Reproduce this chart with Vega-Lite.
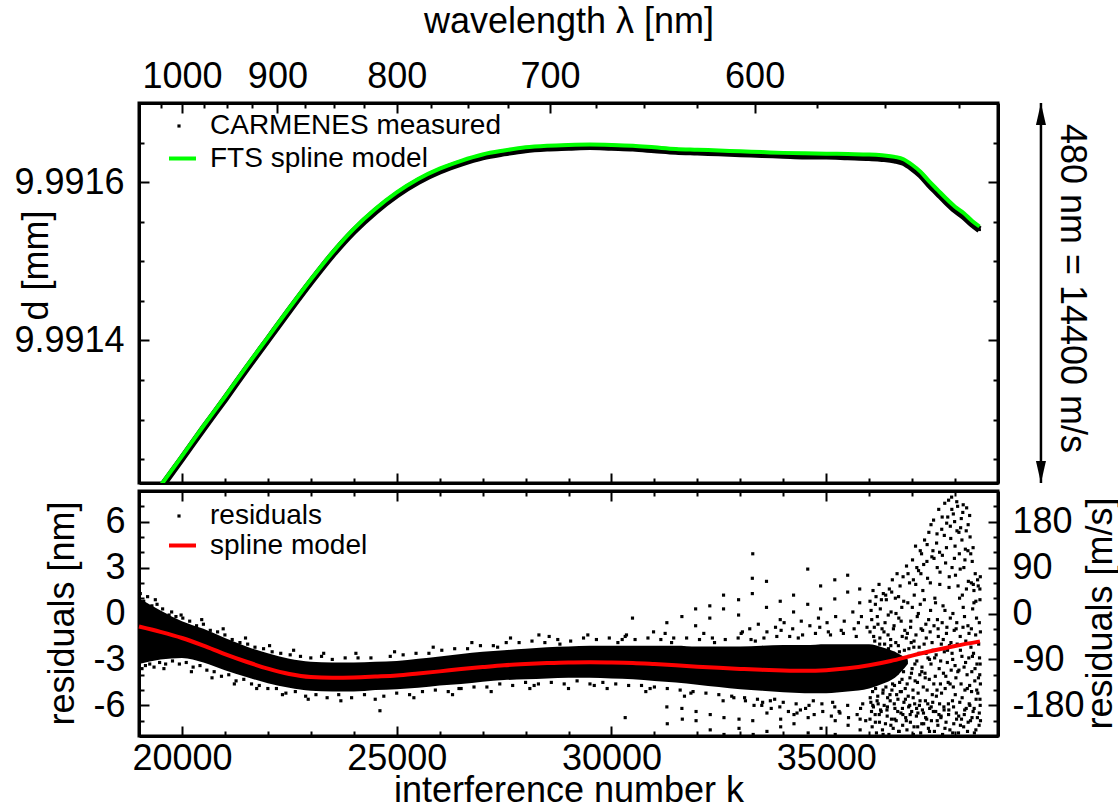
{
"$schema":"https://vega.github.io/schema/vega-lite/v6.json",
"background":"white",
"padding":{"left":12,"top":1,"right":0,"bottom":0},
"spacing":0,
"config":{
 "font":"Liberation Sans",
 "view":{"stroke":"black","strokeWidth":3},
 "axis":{"grid":false,"domainColor":"black","domainWidth":3,"tickColor":"black","tickWidth":2,"labelFont":"Liberation Sans","labelFontSize":36,"labelColor":"black","titleFont":"Liberation Sans","titleFontSize":36,"titleFontWeight":"normal","titleColor":"black","labelOverlap":false,"labelFlush":false,"labelBound":false},
 "legend":{"labelFont":"Liberation Sans","labelFontSize":28,"labelColor":"black","padding":0,"orient":"none","labelLimit":0,"symbolOpacity":1}
},
"datasets":{
 "model":[{"k":19400,"d":9.991209},{"k":20000,"d":9.991254},{"k":20500,"d":9.991292},{"k":21000,"d":9.991329},{"k":21500,"d":9.991367},{"k":22000,"d":9.991404},{"k":22500,"d":9.991441},{"k":23000,"d":9.991477},{"k":23500,"d":9.991511},{"k":24000,"d":9.991541},{"k":24500,"d":9.991566},{"k":25000,"d":9.991587},{"k":25500,"d":9.991604},{"k":26000,"d":9.991617},{"k":26500,"d":9.991627},{"k":27000,"d":9.991635},{"k":27500,"d":9.99164},{"k":28000,"d":9.991644},{"k":28500,"d":9.991646},{"k":29000,"d":9.991647},{"k":29500,"d":9.9916475},{"k":30000,"d":9.991647},{"k":30500,"d":9.991646},{"k":31000,"d":9.991644},{"k":31500,"d":9.991642},{"k":32000,"d":9.991641},{"k":32500,"d":9.99164},{"k":33000,"d":9.991639},{"k":33500,"d":9.991638},{"k":34000,"d":9.991637},{"k":34500,"d":9.9916365},{"k":35000,"d":9.991636},{"k":35500,"d":9.9916355},{"k":36000,"d":9.991635},{"k":36300,"d":9.991634},{"k":36600,"d":9.991632},{"k":36800,"d":9.991629},{"k":37000,"d":9.991622},{"k":37200,"d":9.991613},{"k":37400,"d":9.991601},{"k":37600,"d":9.99159},{"k":37800,"d":9.991579},{"k":38000,"d":9.991569},{"k":38200,"d":9.991561},{"k":38400,"d":9.991551},{"k":38570,"d":9.991544}],
 "meas":[{"k":19400,"d":9.991206},{"k":20000,"d":9.991251},{"k":20500,"d":9.991289},{"k":21000,"d":9.991326},{"k":21500,"d":9.991364},{"k":22000,"d":9.991401},{"k":22500,"d":9.991438},{"k":23000,"d":9.991474},{"k":23500,"d":9.991508},{"k":24000,"d":9.991538},{"k":24500,"d":9.991563},{"k":25000,"d":9.991584},{"k":25500,"d":9.991601},{"k":26000,"d":9.991614},{"k":26500,"d":9.991624},{"k":27000,"d":9.991632},{"k":27500,"d":9.991637},{"k":28000,"d":9.991641},{"k":28500,"d":9.991643},{"k":29000,"d":9.991644},{"k":29500,"d":9.991645},{"k":30000,"d":9.991644},{"k":30500,"d":9.991643},{"k":31000,"d":9.991641},{"k":31500,"d":9.991639},{"k":32000,"d":9.991638},{"k":32500,"d":9.991637},{"k":33000,"d":9.991636},{"k":33500,"d":9.991635},{"k":34000,"d":9.991634},{"k":34500,"d":9.991633},{"k":35000,"d":9.991633},{"k":35500,"d":9.991632},{"k":36000,"d":9.991631},{"k":36300,"d":9.99163},{"k":36600,"d":9.991628},{"k":36800,"d":9.991625},{"k":37000,"d":9.991618},{"k":37200,"d":9.991609},{"k":37400,"d":9.991597},{"k":37600,"d":9.991586},{"k":37800,"d":9.991575},{"k":38000,"d":9.991565},{"k":38200,"d":9.991557},{"k":38400,"d":9.991547},{"k":38570,"d":9.99154}],
 "spline":[{"k":19000,"r":-0.85},{"k":19500,"r":-1.2},{"k":20000,"r":-1.6},{"k":20500,"r":-2.1},{"k":21000,"r":-2.65},{"k":21500,"r":-3.15},{"k":22000,"r":-3.6},{"k":22500,"r":-3.95},{"k":23000,"r":-4.15},{"k":23500,"r":-4.2},{"k":24000,"r":-4.18},{"k":24500,"r":-4.12},{"k":25000,"r":-4.05},{"k":25500,"r":-3.92},{"k":26000,"r":-3.78},{"k":26500,"r":-3.63},{"k":27000,"r":-3.5},{"k":27500,"r":-3.38},{"k":28000,"r":-3.3},{"k":28500,"r":-3.24},{"k":29000,"r":-3.2},{"k":29500,"r":-3.19},{"k":30000,"r":-3.2},{"k":30500,"r":-3.23},{"k":31000,"r":-3.3},{"k":31500,"r":-3.38},{"k":32000,"r":-3.47},{"k":32500,"r":-3.55},{"k":33000,"r":-3.62},{"k":33500,"r":-3.68},{"k":34000,"r":-3.72},{"k":34500,"r":-3.74},{"k":35000,"r":-3.7},{"k":35500,"r":-3.58},{"k":36000,"r":-3.38},{"k":36500,"r":-3.1},{"k":37000,"r":-2.75},{"k":37500,"r":-2.42},{"k":38000,"r":-2.12},{"k":38580,"r":-1.82}],
 "band":[{"k":19000,"lo":-3.3,"hi":1.0},{"k":19500,"lo":-3.0,"hi":0.2},{"k":20000,"lo":-2.9,"hi":-0.5},{"k":20500,"lo":-3.2,"hi":-1.0},{"k":21000,"lo":-3.7,"hi":-1.6},{"k":21500,"lo":-4.15,"hi":-2.15},{"k":22000,"lo":-4.55,"hi":-2.6},{"k":22500,"lo":-4.85,"hi":-2.95},{"k":23000,"lo":-5.05,"hi":-3.15},{"k":23500,"lo":-5.1,"hi":-3.2},{"k":24000,"lo":-5.1,"hi":-3.2},{"k":24500,"lo":-5.0,"hi":-3.15},{"k":25000,"lo":-4.95,"hi":-3.1},{"k":25500,"lo":-4.85,"hi":-2.95},{"k":26000,"lo":-4.7,"hi":-2.8},{"k":26500,"lo":-4.6,"hi":-2.65},{"k":27000,"lo":-4.45,"hi":-2.5},{"k":27500,"lo":-4.35,"hi":-2.4},{"k":28000,"lo":-4.3,"hi":-2.3},{"k":28500,"lo":-4.25,"hi":-2.2},{"k":29000,"lo":-4.2,"hi":-2.15},{"k":29500,"lo":-4.2,"hi":-2.1},{"k":30000,"lo":-4.25,"hi":-2.1},{"k":30500,"lo":-4.3,"hi":-2.1},{"k":31000,"lo":-4.4,"hi":-2.1},{"k":31500,"lo":-4.5,"hi":-2.1},{"k":32000,"lo":-4.65,"hi":-2.15},{"k":32500,"lo":-4.8,"hi":-2.15},{"k":33000,"lo":-4.95,"hi":-2.15},{"k":33500,"lo":-5.05,"hi":-2.1},{"k":34000,"lo":-5.15,"hi":-2.05},{"k":34500,"lo":-5.2,"hi":-2.05},{"k":35000,"lo":-5.2,"hi":-2.0},{"k":35500,"lo":-5.1,"hi":-2.0},{"k":36000,"lo":-4.9,"hi":-2.0},{"k":36300,"lo":-4.6,"hi":-2.2},{"k":36600,"lo":-4.2,"hi":-2.5},{"k":36900,"lo":-3.3,"hi":-3.0}],
 "resid":[
{"k":19030,"r":1.3},{"k":19070,"r":-3.6},{"k":19110,"r":0.8},{"k":19150,"r":-3.4},{"k":19200,"r":1.1},{"k":19250,"r":-3.3},{"k":19300,"r":0.5},{"k":19350,"r":-3.5},{"k":19420,"r":0.6},{"k":19480,"r":-3.2},{"k":19550,"r":0.3},{"k":19620,"r":-3.3},{"k":19700,"r":-0.1},{"k":19780,"r":-3.1},{"k":19860,"r":-0.2},{"k":19940,"r":-3.3},{"k":20020,"r":-0.3},{"k":20100,"r":-3.2},{"k":20180,"r":-0.5},{"k":20260,"r":-3.5},{"k":20340,"r":-0.8},{"k":20420,"r":-3.4},{"k":20500,"r":-0.7},{"k":20580,"r":-3.7},{"k":20660,"r":-1.1},{"k":20750,"r":-3.8},{"k":20830,"r":-1.2},{"k":20920,"r":-4.1},{"k":21000,"r":-1.4},{"k":21090,"r":-4.0},{"k":21170,"r":-1.7},{"k":21260,"r":-4.4},{"k":21350,"r":-1.9},{"k":21440,"r":-4.3},{"k":21530,"r":-2.0},{"k":21620,"r":-4.6},{"k":21700,"r":-2.2},{"k":21800,"r":-4.7},{"k":21900,"r":-2.3},{"k":22000,"r":-4.9},{"k":22100,"r":-2.5},{"k":22200,"r":-4.9},{"k":22300,"r":-2.6},{"k":22420,"r":-5.2},{"k":22520,"r":-2.7},{"k":22640,"r":-5.1},{"k":22760,"r":-2.8},{"k":22880,"r":-5.4},{"k":23000,"r":-2.9},{"k":23120,"r":-5.3},{"k":23250,"r":-2.8},{"k":23380,"r":-5.5},{"k":23500,"r":-3.0},{"k":23650,"r":-5.3},{"k":23800,"r":-2.9},{"k":23950,"r":-5.5},{"k":24100,"r":-2.9},{"k":24250,"r":-5.3},{"k":24400,"r":-2.9},{"k":24610,"r":-6.35},{"k":24700,"r":-5.4},{"k":24850,"r":-2.8},{"k":25000,"r":-5.2},{"k":25150,"r":-2.7},{"k":25300,"r":-5.3},{"k":25450,"r":-2.6},{"k":25600,"r":-5.1},{"k":25750,"r":-2.6},{"k":25900,"r":-5.0},{"k":26050,"r":-2.4},{"k":26200,"r":-5.1},{"k":26350,"r":-2.3},{"k":26500,"r":-4.9},{"k":26650,"r":-2.3},{"k":26800,"r":-4.8},{"k":26950,"r":-2.1},{"k":27100,"r":-4.8},{"k":27250,"r":-2.1},{"k":27400,"r":-4.6},{"k":27550,"r":-1.9},{"k":27700,"r":-4.7},{"k":27850,"r":-1.9},{"k":28000,"r":-4.5},{"k":28150,"r":-1.8},{"k":28300,"r":-4.6},{"k":28311,"r":-1.4},{"k":28450,"r":-1.9},{"k":28600,"r":-4.5},{"k":28750,"r":-1.7},{"k":28900,"r":-4.6},{"k":29050,"r":-1.8},{"k":29200,"r":-4.4},{"k":29350,"r":-1.6},{"k":29500,"r":-4.6},{"k":29650,"r":-1.7},{"k":29800,"r":-4.5},{"k":29950,"r":-1.6},{"k":30100,"r":-4.6},{"k":30250,"r":-1.7},{"k":30320,"r":-1.5},{"k":30400,"r":-4.7},{"k":30490,"r":-0.3},{"k":30550,"r":-1.7},{"k":30700,"r":-4.7},{"k":30850,"r":-1.6},{"k":30980,"r":-1.2},{"k":31000,"r":-4.8},{"k":31150,"r":-1.7},{"k":31300,"r":-4.9},{"k":31450,"r":-1.6},{"k":31600,"r":-5.0},{"k":31750,"r":-1.6},{"k":31900,"r":-5.1},{"k":32050,"r":-1.7},{"k":32200,"r":-5.2},{"k":32350,"r":-1.6},{"k":32500,"r":-5.3},{"k":32650,"r":-1.7},{"k":32800,"r":-5.4},{"k":32950,"r":-1.6},{"k":33100,"r":-5.5},{"k":33250,"r":-1.7},{"k":33400,"r":-5.6},{"k":33550,"r":-1.6},{"k":33700,"r":-5.7},{"k":33850,"r":-1.5},{"k":34000,"r":-5.8},{"k":34150,"r":-1.5},{"k":34300,"r":-5.9},{"k":34450,"r":-1.4},{"k":34600,"r":-6.0},{"k":34750,"r":-1.3},{"k":34900,"r":-5.9},{"k":35050,"r":-1.2},{"k":35200,"r":-6.1},{"k":35350,"r":-1.1},{"k":35500,"r":-6.0},{"k":35650,"r":-1.0},{"k":35800,"r":-6.2},{"k":35950,"r":-0.9},
{"k":19180,"r":-2.8},{"k":19380,"r":0.9},{"k":19580,"r":-3.6},{"k":19760,"r":0.1},{"k":19980,"r":-0.1},{"k":20220,"r":-3.8},{"k":20460,"r":-0.4},{"k":20700,"r":-4.2},{"k":20960,"r":-1.0},{"k":21220,"r":-4.6},{"k":21480,"r":-1.6},{"k":21740,"r":-4.9},{"k":22040,"r":-2.1},{"k":22340,"r":-5.3},{"k":22600,"r":-2.4},{"k":22940,"r":-5.6},{"k":23300,"r":-2.6},{"k":23700,"r":-5.7},{"k":24050,"r":-2.6},{"k":24500,"r":-5.6},{"k":24950,"r":-2.5},{"k":25400,"r":-5.5},{"k":25850,"r":-2.2},{"k":26300,"r":-5.3},{"k":26750,"r":-1.9},{"k":27200,"r":-5.1},{"k":27650,"r":-1.6},{"k":28100,"r":-4.9},{"k":28550,"r":-1.5},{"k":29000,"r":-4.9},{"k":29450,"r":-1.4},{"k":29900,"r":-4.9},{"k":30350,"r":-1.4},{"k":30800,"r":-5.1},{"k":31250,"r":-1.3},{"k":31700,"r":-5.4},{"k":32150,"r":-1.3},{"k":32600,"r":-5.7},{"k":33050,"r":-1.2},{"k":33500,"r":-6.0},{"k":33950,"r":-1.1},{"k":34400,"r":-6.3},{"k":34850,"r":-0.9},{"k":35300,"r":-6.4},{"k":35750,"r":-0.6},
{"k":33020,"r":-1.3},{"k":33120,"r":-5.7},{"k":33220,"r":-1.0},{"k":33320,"r":-6.0},{"k":33420,"r":-0.7},{"k":33520,"r":-5.8},{"k":33620,"r":-1.2},{"k":33720,"r":-6.2},{"k":33820,"r":-0.9},{"k":33920,"r":-6.1},{"k":34020,"r":-0.6},{"k":34120,"r":-6.4},{"k":34220,"r":-1.0},{"k":34320,"r":-6.5},{"k":34420,"r":-0.5},{"k":34520,"r":-6.2},{"k":34620,"r":-0.8},{"k":34720,"r":-6.6},{"k":34820,"r":-0.3},{"k":34920,"r":-6.4},{"k":35020,"r":-0.6},{"k":35120,"r":-6.7},{"k":35220,"r":-0.2},{"k":35320,"r":-6.5},{"k":35420,"r":-0.5},{"k":35520,"r":-6.8},{"k":35620,"r":0.1},{"k":35720,"r":-6.6},{"k":35820,"r":-0.2},{"k":35920,"r":-7.0},{"k":35100,"r":-1.4},{"k":35400,"r":-1.3},{"k":35700,"r":-1.5},{"k":35850,"r":-5.9},{"k":35150,"r":-5.8},{"k":34700,"r":-5.7},{"k":34350,"r":-1.6},{"k":33800,"r":-5.6},{"k":33350,"r":-1.8},{"k":32850,"r":-5.5},{"k":32400,"r":-1.9},{"k":31850,"r":-5.2},{"k":31400,"r":-1.9},{"k":30900,"r":-4.9},{"k":30150,"r":-1.9},{"k":29600,"r":-4.7},{"k":28800,"r":-2.0},{"k":28200,"r":-4.7},{"k":27350,"r":-2.2},{"k":26450,"r":-4.9},
{"k":30320,"r":-6.8},{"k":31290,"r":-0.6},{"k":31290,"r":-6.1},{"k":31300,"r":-7.2},{"k":31640,"r":-0.2},{"k":31640,"r":-6.2},{"k":31650,"r":-6.9},{"k":31960,"r":-0.8},{"k":31960,"r":0.3},{"k":31970,"r":-6.4},{"k":31970,"r":-7.0},{"k":32290,"r":0.5},{"k":32290,"r":-0.3},{"k":32300,"r":-6.6},{"k":32300,"r":-7.6},{"k":32610,"r":0.3},{"k":32610,"r":1.2},{"k":32620,"r":-6.8},{"k":32620,"r":-7.9},{"k":32960,"r":-0.1},{"k":32960,"r":0.9},{"k":32970,"r":-6.9},{"k":32970,"r":-7.5},{"k":33280,"r":2.3},{"k":33280,"r":1.3},{"k":33290,"r":3.9},{"k":33290,"r":-7.0},{"k":33300,"r":-7.9},{"k":33610,"r":2.1},{"k":33610,"r":0.4},{"k":33620,"r":-6.5},{"k":33620,"r":-7.7},{"k":33930,"r":0.8},{"k":33930,"r":-0.4},{"k":33940,"r":-6.9},{"k":33940,"r":-7.4},{"k":34240,"r":1.2},{"k":34240,"r":0.1},{"k":34250,"r":-7.2},{"k":34250,"r":-6.6},{"k":34570,"r":2.9},{"k":34570,"r":0.6},{"k":34580,"r":-6.8},{"k":34580,"r":-7.8},{"k":34870,"r":1.8},{"k":34870,"r":0.3},{"k":34880,"r":-7.5},{"k":35200,"r":0.95},{"k":35200,"r":2.2},{"k":35210,"r":-7.0},{"k":35210,"r":-7.9},{"k":35500,"r":2.5},{"k":35500,"r":1.4},{"k":35510,"r":-7.3},{"k":35780,"r":1.6},{"k":35780,"r":0.7},{"k":35790,"r":-7.6},{"k":35790,"r":-6.9},
{"k":36020,"r":-6.9},{"k":36020,"r":-1.2},{"k":36020,"r":0.8},{"k":36040,"r":-5.8},{"k":36060,"r":-0.4},{"k":36070,"r":-7.4},{"k":36090,"r":1.5},{"k":36100,"r":-6.1},{"k":36120,"r":-0.9},{"k":36140,"r":-6.6},{"k":36160,"r":1.1},{"k":36170,"r":-7.8},{"k":36190,"r":-0.2},{"k":36210,"r":-5.9},{"k":36230,"r":1.9},{"k":36240,"r":-7.1},{"k":36260,"r":0.3},{"k":36280,"r":-6.4},{"k":36300,"r":-1.0},{"k":36310,"r":-7.6},{"k":36330,"r":1.3},{"k":36350,"r":-6.0},{"k":36370,"r":-0.6},{"k":36380,"r":-7.2},{"k":36400,"r":0.9},{"k":36420,"r":-6.7},{"k":36440,"r":-1.4},{"k":36460,"r":-7.9},{"k":36470,"r":1.6},{"k":36490,"r":-5.7},{"k":36510,"r":0.1},{"k":36520,"r":-6.9},{"k":36540,"r":2.2},{"k":36560,"r":-7.5},{"k":36580,"r":-0.8},{"k":36600,"r":-6.2},{"k":36610,"r":1.0},{"k":36630,"r":-7.0},{"k":36650,"r":2.6},{"k":36670,"r":-5.6},{"k":36690,"r":-0.3},{"k":36700,"r":-7.7},{"k":36720,"r":1.8},{"k":36740,"r":-6.5},{"k":36760,"r":0.4},{"k":36780,"r":-7.3},{"k":36790,"r":2.4},{"k":36810,"r":-5.8},{"k":36830,"r":-1.1},{"k":36850,"r":-6.8},{"k":36870,"r":3.1},{"k":36880,"r":-7.6},{"k":36900,"r":0.7},{"k":36920,"r":-6.1},{"k":36940,"r":2.0},{"k":36960,"r":-7.1},{"k":36970,"r":-0.5},{"k":36990,"r":-6.4},{"k":37010,"r":3.5},{"k":37030,"r":-7.9},{"k":37050,"r":1.2},{"k":37060,"r":-5.9},{"k":37080,"r":4.4},{"k":37100,"r":-6.7},{"k":37120,"r":-0.2},{"k":37130,"r":-7.4},{"k":37150,"r":2.8},{"k":37170,"r":-6.0},{"k":37190,"r":0.6},{"k":37200,"r":-7.8},{"k":37220,"r":3.9},{"k":37240,"r":-6.3},{"k":37250,"r":1.5},{"k":37270,"r":-7.2},{"k":37290,"r":4.8},{"k":37310,"r":-5.7},{"k":37320,"r":-0.7},{"k":37340,"r":-6.9},{"k":37360,"r":2.3},{"k":37380,"r":-7.5},{"k":37390,"r":5.3},{"k":37410,"r":-6.2},{"k":37430,"r":0.2},{"k":37450,"r":-7.0},{"k":37460,"r":3.7},{"k":37480,"r":-5.8},{"k":37500,"r":6.1},{"k":37520,"r":-7.7},{"k":37530,"r":1.0},{"k":37550,"r":-6.4},{"k":37570,"r":4.6},{"k":37590,"r":-0.4},{"k":37600,"r":-7.3},{"k":37620,"r":6.8},{"k":37640,"r":-5.9},{"k":37650,"r":2.7},{"k":37670,"r":-6.8},{"k":37690,"r":5.5},{"k":37710,"r":-7.9},{"k":37720,"r":0.5},{"k":37740,"r":-6.1},{"k":37760,"r":7.2},{"k":37780,"r":3.3},{"k":37790,"r":-7.1},{"k":37810,"r":-0.9},{"k":37830,"r":6.3},{"k":37850,"r":-6.6},{"k":37860,"r":1.7},{"k":37880,"r":-7.6},{"k":37900,"r":4.9},{"k":37920,"r":7.6},{"k":37940,"r":-5.7},{"k":37950,"r":0.0},{"k":37970,"r":-7.2},{"k":37990,"r":6.0},{"k":38010,"r":2.5},{"k":38030,"r":-6.5},{"k":38040,"r":-0.6},{"k":38060,"r":7.0},{"k":38080,"r":-7.8},{"k":38100,"r":3.9},{"k":38110,"r":-5.8},{"k":38130,"r":5.6},{"k":38150,"r":-6.9},{"k":38170,"r":1.2},{"k":38180,"r":6.6},{"k":38200,"r":-7.4},{"k":38220,"r":-0.2},{"k":38240,"r":4.2},{"k":38260,"r":-6.2},{"k":38270,"r":6.9},{"k":38290,"r":-7.7},{"k":38310,"r":2.1},{"k":38330,"r":-5.9},{"k":38350,"r":5.0},{"k":38360,"r":-7.0},{"k":38380,"r":-1.0},{"k":38400,"r":3.4},{"k":38420,"r":-6.4},{"k":38440,"r":0.7},{"k":38450,"r":-7.8},{"k":38470,"r":2.6},{"k":38490,"r":-5.6},{"k":38500,"r":-0.3},{"k":38520,"r":-6.8},{"k":38540,"r":1.8},{"k":38560,"r":-7.3},{"k":38570,"r":-2.9},{"k":38580,"r":0.9},{"k":38590,"r":-4.6},
{"k":36010,"r":-3.0},{"k":36030,"r":-4.6},{"k":36050,"r":-2.2},{"k":36080,"r":-5.1},{"k":36110,"r":-3.7},{"k":36130,"r":-1.8},{"k":36150,"r":-4.9},{"k":36180,"r":-2.7},{"k":36200,"r":-5.4},{"k":36220,"r":-3.3},{"k":36250,"r":-1.6},{"k":36270,"r":-4.4},{"k":36290,"r":-2.5},{"k":36320,"r":-5.2},{"k":36340,"r":-3.9},{"k":36360,"r":-2.0},{"k":36390,"r":-4.8},{"k":36410,"r":-3.1},{"k":36430,"r":-5.5},{"k":36450,"r":-2.3},{"k":36480,"r":-4.1},{"k":36500,"r":-1.7},{"k":36530,"r":-5.0},{"k":36550,"r":-3.4},{"k":36570,"r":-2.6},{"k":36590,"r":-4.7},{"k":36620,"r":-1.9},{"k":36640,"r":-5.3},{"k":36660,"r":-3.6},{"k":36680,"r":-2.1},{"k":36710,"r":-4.5},{"k":36730,"r":-3.0},{"k":36750,"r":-5.1},{"k":36770,"r":-1.5},{"k":36800,"r":-3.8},{"k":36820,"r":-2.4},{"k":36840,"r":-4.9},{"k":36860,"r":-3.2},{"k":36890,"r":-1.3},{"k":36910,"r":-5.4},{"k":36930,"r":-2.8},{"k":36950,"r":-4.2},{"k":36980,"r":-1.9},{"k":37000,"r":-3.6},{"k":37020,"r":-5.0},{"k":37040,"r":-2.2},{"k":37070,"r":-4.4},{"k":37090,"r":-1.4},{"k":37110,"r":-3.1},{"k":37140,"r":-5.2},{"k":37160,"r":-2.6},{"k":37180,"r":-4.0},{"k":37210,"r":-1.0},{"k":37230,"r":-3.5},{"k":37260,"r":-4.8},{"k":37280,"r":-2.0},{"k":37300,"r":-3.9},{"k":37330,"r":-1.6},{"k":37350,"r":-5.0},{"k":37370,"r":-2.9},{"k":37400,"r":-4.3},{"k":37420,"r":-1.2},{"k":37440,"r":-3.3},{"k":37470,"r":-5.3},{"k":37490,"r":-2.4},{"k":37510,"r":-0.8},{"k":37540,"r":-4.1},{"k":37560,"r":-2.7},{"k":37580,"r":-5.0},{"k":37610,"r":-1.5},{"k":37630,"r":-3.6},{"k":37660,"r":-4.6},{"k":37680,"r":-2.0},{"k":37700,"r":-0.6},{"k":37730,"r":-3.9},{"k":37750,"r":-2.5},{"k":37770,"r":-4.9},{"k":37800,"r":-1.3},{"k":37820,"r":-3.2},{"k":37840,"r":-4.5},{"k":37870,"r":-2.1},{"k":37890,"r":-0.3},{"k":37910,"r":-3.7},{"k":37930,"r":-2.6},{"k":37960,"r":-4.8},{"k":37980,"r":-1.1},{"k":38000,"r":-3.4},{"k":38020,"r":-4.2},{"k":38050,"r":-2.0},{"k":38070,"r":1.8},{"k":38090,"r":-3.7},{"k":38120,"r":-1.5},{"k":38140,"r":-4.6},{"k":38160,"r":-2.8},{"k":38190,"r":0.4},{"k":38210,"r":-3.5},{"k":38230,"r":-5.0},{"k":38250,"r":-1.8},{"k":38280,"r":-4.0},{"k":38300,"r":-0.8},{"k":38320,"r":-2.9},{"k":38340,"r":-4.7},{"k":38370,"r":-2.2},{"k":38390,"r":-3.8},{"k":38410,"r":0.3},{"k":38430,"r":-2.6},{"k":38460,"r":-4.4},{"k":38480,"r":-1.4},{"k":38510,"r":-3.3},{"k":38530,"r":-5.2},{"k":38550,"r":-2.0},{"k":38575,"r":-4.0},{"k":38585,"r":-6.0},{"k":38590,"r":-1.2},
{"k":37030,"r":2.2},{"k":37110,"r":3.0},{"k":37190,"r":4.1},{"k":37270,"r":3.2},{"k":37350,"r":4.5},{"k":37440,"r":5.8},{"k":37510,"r":3.6},{"k":37580,"r":5.2},{"k":37640,"r":4.0},{"k":37700,"r":6.3},{"k":37750,"r":5.1},{"k":37800,"r":4.3},{"k":37850,"r":7.4},{"k":37890,"r":5.7},{"k":37930,"r":3.0},{"k":37960,"r":6.5},{"k":38000,"r":4.4},{"k":38040,"r":7.3},{"k":38090,"r":5.3},{"k":38120,"r":2.9},{"k":38160,"r":4.8},{"k":38190,"r":7.1},{"k":38230,"r":3.5},{"k":38260,"r":5.4},{"k":38300,"r":4.1},{"k":38340,"r":6.4},{"k":38380,"r":2.0},{"k":38420,"r":4.3},{"k":38440,"r":1.5},
{"k":36055,"r":-6.4},{"k":36145,"r":-7.1},{"k":36235,"r":-6.6},{"k":36325,"r":-7.9},{"k":36415,"r":-6.3},{"k":36505,"r":-7.3},{"k":36595,"r":-6.9},{"k":36685,"r":-7.7},{"k":36775,"r":-6.2},{"k":36865,"r":-7.0},{"k":36955,"r":-6.6},{"k":37045,"r":-7.4},{"k":37135,"r":-6.5},{"k":37225,"r":-7.2},{"k":37315,"r":-6.8},{"k":37405,"r":-7.7},{"k":37495,"r":-6.4},{"k":37585,"r":-7.0},{"k":37675,"r":-6.7},{"k":37765,"r":-7.5},{"k":37855,"r":-6.3},{"k":37945,"r":-7.8},{"k":38035,"r":-6.9},{"k":38125,"r":-7.3},{"k":38215,"r":-6.6},{"k":38305,"r":-7.1},{"k":38395,"r":-6.8},{"k":38485,"r":-7.6},{"k":38565,"r":-6.5},
{"k":36005,"r":-2.4},{"k":36025,"r":-5.5},{"k":36045,"r":0.2},{"k":36065,"r":-3.6},{"k":36085,"r":-6.0},{"k":36105,"r":-1.5},{"k":36125,"r":-4.2},{"k":36145,"r":0.6},{"k":36165,"r":-2.9},{"k":36185,"r":-5.7},{"k":36205,"r":-0.7},{"k":36225,"r":-4.5},{"k":36245,"r":-2.0},{"k":36265,"r":-6.3},{"k":36285,"r":0.9},{"k":36305,"r":-3.4},{"k":36325,"r":-5.0},{"k":36345,"r":-1.2},{"k":36365,"r":-4.0},{"k":36385,"r":1.2},{"k":36405,"r":-2.7},{"k":36425,"r":-6.1},{"k":36445,"r":-0.1},{"k":36465,"r":-3.7},{"k":36485,"r":-5.3},{"k":36505,"r":-2.1},{"k":36525,"r":1.4},{"k":36545,"r":-4.6},{"k":36565,"r":-1.0},{"k":36585,"r":-5.9},{"k":36605,"r":-2.9},{"k":36625,"r":0.0},{"k":36645,"r":-3.9},{"k":36665,"r":-6.4},{"k":36685,"r":1.1},{"k":36705,"r":-2.5},{"k":36725,"r":-5.1},{"k":36745,"r":-0.5},{"k":36765,"r":-4.3},{"k":36785,"r":-6.6},{"k":36805,"r":0.8},{"k":36825,"r":-3.0},{"k":36845,"r":-5.6},{"k":36865,"r":-1.6},{"k":36885,"r":-4.6},{"k":36905,"r":2.6},{"k":36925,"r":-2.3},{"k":36945,"r":-6.0},{"k":36965,"r":-0.9},{"k":36985,"r":-3.9},{"k":37005,"r":0.4},{"k":37025,"r":-5.5},{"k":37045,"r":-1.8},{"k":37065,"r":-3.3},{"k":37085,"r":1.9},{"k":37105,"r":-6.2},{"k":37125,"r":-4.5},{"k":37145,"r":0.0},{"k":37165,"r":-2.2},{"k":37185,"r":-5.7},{"k":37205,"r":2.6},{"k":37225,"r":-3.8},{"k":37245,"r":-1.1},{"k":37265,"r":-6.5},{"k":37285,"r":0.9},{"k":37305,"r":-4.2},{"k":37325,"r":-2.6},{"k":37345,"r":3.4},{"k":37365,"r":-5.9},{"k":37385,"r":-0.4},{"k":37405,"r":-3.0},{"k":37425,"r":2.0},{"k":37445,"r":-6.1},{"k":37465,"r":-1.9},{"k":37485,"r":4.1},{"k":37505,"r":-4.6},{"k":37525,"r":-2.9},{"k":37545,"r":0.7},{"k":37565,"r":-5.4},{"k":37585,"r":3.0},{"k":37605,"r":-1.0},{"k":37625,"r":-6.6},{"k":37645,"r":1.9},{"k":37665,"r":-3.1},{"k":37685,"r":-5.2},{"k":37705,"r":3.8},{"k":37725,"r":-1.7},{"k":37745,"r":-6.3},{"k":37765,"r":0.2},{"k":37785,"r":-4.1},{"k":37805,"r":5.9},{"k":37825,"r":-2.4},{"k":37845,"r":-5.9},{"k":37865,"r":2.4},{"k":37885,"r":-4.6},{"k":37905,"r":-1.9},{"k":37925,"r":6.8},{"k":37945,"r":-3.0},{"k":37965,"r":-6.1},{"k":37985,"r":3.6},{"k":38005,"r":-5.3},{"k":38025,"r":-1.0},{"k":38045,"r":5.4},{"k":38065,"r":-3.8},{"k":38085,"r":-6.7},{"k":38105,"r":1.0},{"k":38125,"r":-2.4},{"k":38145,"r":6.2},{"k":38165,"r":-5.5},{"k":38185,"r":-0.9},{"k":38205,"r":3.0},{"k":38225,"r":-6.3},{"k":38245,"r":-3.2},{"k":38265,"r":1.6},{"k":38285,"r":-4.9},{"k":38305,"r":5.8},{"k":38325,"r":-1.3},{"k":38345,"r":-6.0},{"k":38365,"r":3.9},{"k":38385,"r":-5.1},{"k":38405,"r":-2.8},{"k":38425,"r":1.9},{"k":38445,"r":-6.2},{"k":38465,"r":-3.6},{"k":38485,"r":0.8},{"k":38505,"r":-5.0},{"k":38525,"r":2.2},{"k":38545,"r":-4.2},{"k":38565,"r":-0.6},{"k":38580,"r":-5.6},{"k":38588,"r":2.4},{"k":38592,"r":-7.0},{"k":38584,"r":-3.3},{"k":38578,"r":1.6}
 ]
},
"vconcat":[
 {
  "width":859,"height":380,
  "resolve":{"scale":{"x":"independent","y":"independent"}},
  "layer":[
   {
    "data":{"name":"meas"},
    "mark":{"type":"line","color":"black","strokeWidth":7,"interpolate":"monotone","clip":true},
    "encoding":{
     "x":{"field":"k","type":"quantitative","scale":{"domain":[19000,39000],"nice":false,"zero":false},
      "axis":{"orient":"bottom","values":[20000,21000,22000,23000,24000,25000,26000,27000,28000,29000,30000,31000,32000,33000,34000,35000,36000,37000,38000],"labels":false,"title":null,"tickSize":{"condition":{"test":"datum.value % 5000 === 0","value":-10},"value":-5}}},
     "y":{"field":"d","type":"quantitative","scale":{"domain":[9.99122,9.9917],"nice":false,"zero":false},
      "axis":{"orient":"left","values":[9.99125,9.9913,9.99135,9.9914,9.99145,9.9915,9.99155,9.9916,9.99165],"labelExpr":"abs(datum.value-9.9914)<1e-7 || abs(datum.value-9.9916)<1e-7 ? format(datum.value,'.4f') : ''","labelPadding":25,"tickSize":{"condition":{"test":"abs(datum.value-9.9914)<1e-7 || abs(datum.value-9.9916)<1e-7","value":-10},"value":-5},"title":"d [mm]","titleX":-103,"titleY":162,"titleAngle":270,"titleBaseline":"middle"}}
    }
   },
   {
    "data":{"name":"meas"},
    "mark":{"type":"point","shape":"square","filled":true,"opacity":1,"size":8,"strokeWidth":0,"clip":true},
    "encoding":{
     "x":{"field":"k","type":"quantitative","scale":{"domain":[19000,39000],"nice":false,"zero":false},"axis":null},
     "y":{"field":"d","type":"quantitative","scale":{"domain":[9.99122,9.9917],"nice":false,"zero":false},"axis":null},
     "fill":{"datum":"CARMENES measured","type":"nominal","scale":{"domain":["CARMENES measured"],"range":["black"]},
      "legend":{"orient":"none","legendX":26,"legendY":9,"title":null,"symbolType":"square","symbolSize":10,"symbolStrokeWidth":0,"labelOffset":17}}
    }
   },
   {
    "data":{"name":"model"},
    "mark":{"type":"line","strokeWidth":4,"interpolate":"monotone","clip":true},
    "encoding":{
     "x":{"field":"k","type":"quantitative","scale":{"domain":[19000,39000],"nice":false,"zero":false},
      "axis":{"orient":"top","values":[19512.195,20000,20512.821,21052.632,21621.622,22222.222,22857.143,23529.412,24242.424,25000,25806.452,26666.667,27586.207,28571.429,29629.63,30769.231,32000,33333.333,34782.609,36363.636,38095.238],"labelExpr":"round(2e7/datum.value) % 100 === 0 ? '' + round(2e7/datum.value) : ''","labelPadding":18,"tickSize":{"condition":{"test":"round(2e7/datum.value) % 100 === 0","value":-10},"value":-5},"title":"wavelength λ [nm]","titlePadding":13}},
     "y":{"field":"d","type":"quantitative","scale":{"domain":[9.99122,9.9917],"nice":false,"zero":false},
      "axis":{"orient":"right","values":[9.99125,9.9913,9.99135,9.9914,9.99145,9.9915,9.99155,9.9916,9.99165],"labels":false,"tickSize":{"condition":{"test":"abs(datum.value-9.9914)<1e-7 || abs(datum.value-9.9916)<1e-7","value":-10},"value":-5},"title":"480 nm = 14400 m/s","titleAngle":90,"titleX":73,"titleY":185,"titleBaseline":"middle"}},
     "stroke":{"datum":"FTS spline model","type":"nominal","scale":{"domain":["FTS spline model"],"range":["#00ff00"]},
      "legend":{"orient":"none","legendX":28,"legendY":40,"title":null,"symbolType":"stroke","symbolSize":729,"symbolStrokeWidth":4,"labelOffset":12}}
    }
   },
   {
    "data":{"values":[{}]},
    "mark":{"type":"rule","color":"black","strokeWidth":2.5},
    "encoding":{
     "x":{"datum":40000,"type":"quantitative","scale":{"domain":[19000,39000],"nice":false,"zero":false},"axis":null},
     "y":{"datum":9.99122,"type":"quantitative","scale":{"domain":[9.99122,9.9917],"nice":false,"zero":false},"axis":null},
     "y2":{"datum":9.9917}
    }
   },
   {
    "data":{"values":[{}]},
    "mark":{"type":"point","shape":"M0,0L0.5,2.2L-0.5,2.2Z","filled":true,"opacity":1,"color":"black","size":400,"strokeWidth":0},
    "encoding":{
     "x":{"datum":40000,"type":"quantitative","scale":{"domain":[19000,39000],"nice":false,"zero":false},"axis":null},
     "y":{"datum":9.9917,"type":"quantitative","scale":{"domain":[9.99122,9.9917],"nice":false,"zero":false},"axis":null}
    }
   },
   {
    "data":{"values":[{}]},
    "mark":{"type":"point","shape":"M0,0L0.5,-2.2L-0.5,-2.2Z","filled":true,"opacity":1,"color":"black","size":400,"strokeWidth":0},
    "encoding":{
     "x":{"datum":40000,"type":"quantitative","scale":{"domain":[19000,39000],"nice":false,"zero":false},"axis":null},
     "y":{"datum":9.99122,"type":"quantitative","scale":{"domain":[9.99122,9.9917],"nice":false,"zero":false},"axis":null}
    }
   }
  ]
 },
 {
  "width":859,"height":245,
  "resolve":{"scale":{"x":"independent","y":"independent"}},
  "layer":[
   {
    "data":{"name":"band"},
    "mark":{"type":"area","color":"black","interpolate":"monotone"},
    "encoding":{
     "x":{"field":"k","type":"quantitative","scale":{"domain":[19000,39000],"nice":false,"zero":false},
      "axis":{"orient":"bottom","values":[20000,21000,22000,23000,24000,25000,26000,27000,28000,29000,30000,31000,32000,33000,34000,35000,36000,37000,38000],"labelExpr":"datum.value % 5000 === 0 ? '' + datum.value : ''","labelPadding":15,"tickSize":{"condition":{"test":"datum.value % 5000 === 0","value":-10},"value":-5},"title":"interference number k","titlePadding":-8}},
     "y":{"field":"lo","type":"quantitative","scale":{"domain":[-8,8],"nice":false,"zero":false},
      "axis":{"orient":"left","values":[-7,-6,-5,-4,-3,-2,-1,0,1,2,3,4,5,6,7],"labelExpr":"datum.value % 3 === 0 ? '' + datum.value : ''","labelPadding":24,"tickSize":{"condition":{"test":"datum.value % 3 === 0","value":-10},"value":-5},"title":"residuals [nm]","titleX":-77,"titleY":122,"titleAngle":270,"titleBaseline":"middle"}},
     "y2":{"field":"hi"}
    }
   },
   {
    "data":{"name":"resid"},
    "mark":{"type":"point","shape":"square","filled":true,"opacity":1,"size":10,"strokeWidth":0,"clip":true},
    "encoding":{
     "x":{"field":"k","type":"quantitative","scale":{"domain":[19000,39000],"nice":false,"zero":false},
      "axis":{"orient":"top","values":[20000,21000,22000,23000,24000,25000,26000,27000,28000,29000,30000,31000,32000,33000,34000,35000,36000,37000,38000],"labels":false,"title":null,"tickSize":{"condition":{"test":"datum.value % 5000 === 0","value":-10},"value":-5}}},
     "y":{"field":"r","type":"quantitative","scale":{"domain":[-8,8],"nice":false,"zero":false},"axis":null},
     "fill":{"datum":"residuals","type":"nominal","scale":{"domain":["residuals"],"range":["black"]},
      "legend":{"orient":"none","legendX":26,"legendY":11,"title":null,"symbolType":"square","symbolSize":10,"symbolStrokeWidth":0,"labelOffset":17}}
    }
   },
   {
    "data":{"name":"spline"},
    "mark":{"type":"line","strokeWidth":4,"interpolate":"monotone"},
    "encoding":{
     "x":{"field":"k","type":"quantitative","scale":{"domain":[19000,39000],"nice":false,"zero":false},"axis":null},
     "y":{"field":"r","type":"quantitative","scale":{"domain":[-8,8],"nice":false,"zero":false},
      "axis":{"orient":"right","values":[-7,-6,-5,-4,-3,-2,-1,0,1,2,3,4,5,6,7],"labelExpr":"datum.value % 3 === 0 ? '' + (datum.value*30) : ''","labelPadding":24,"tickSize":{"condition":{"test":"datum.value % 3 === 0","value":-10},"value":-5},"title":"residuals [m/s]","titleX":102,"titleY":122,"titleAngle":270,"titleBaseline":"middle"}},
     "stroke":{"datum":"spline model","type":"nominal","scale":{"domain":["spline model"],"range":["#ff0000"]},
      "legend":{"orient":"none","legendX":28,"legendY":39,"title":null,"symbolType":"stroke","symbolSize":729,"symbolStrokeWidth":4,"labelOffset":12}}
    }
   }
  ]
 }
],
"resolve":{"scale":{"fill":"independent","stroke":"independent"}}
}
